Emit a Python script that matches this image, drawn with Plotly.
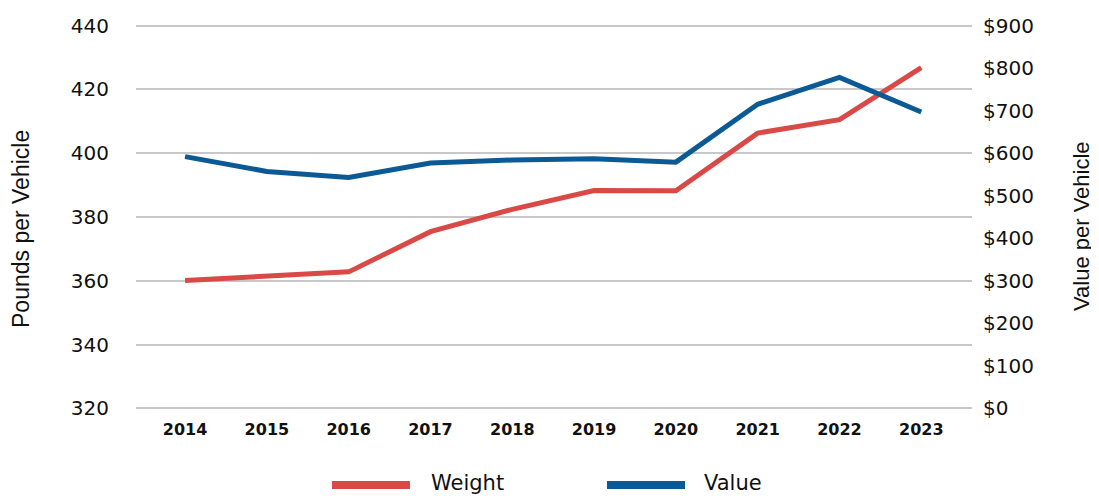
import plotly.graph_objects as go

years = [2014, 2015, 2016, 2017, 2018, 2019, 2020, 2021, 2022, 2023]
weight = [360.1, 361.4, 362.8, 375.4, 382.4, 388.3, 388.2, 406.3, 410.5, 426.8]
value = [592, 557, 543, 577, 584, 587, 579, 715, 778, 697]
left_ticks = [320, 340, 360, 380, 400, 420, 440]
right_ticks = [0, 100, 200, 300, 400, 500, 600, 700, 800, 900]
right_labels = ["$" + str(v) for v in right_ticks]

RED = "#D94A47"
BLUE = "#0B5A96"
FONT = "DejaVu Sans"
TITLE_FONT = "Liberation Sans"

# page has an 8px body margin, so the figure is offset by 8px
W, H = 1091, 488
ML, MR, MT, MB = 128, 127, 16, 86
PW, PH = W - ML - MR, H - MT - MB


def px(sx):
    return (sx - 8 - ML) / PW


def py(sy):
    return (H - MB - (sy - 8)) / PH


# small padding so the edge gridlines (320 / 440) are drawn
LRANGE = [319.5, 440.5]
RRANGE = [(LRANGE[0] - 320) * 7.5, (LRANGE[1] - 320) * 7.5]

fig = go.Figure()
fig.add_trace(go.Scatter(x=years, y=weight, name="Weight", mode="lines",
                         line=dict(color=RED, width=5), yaxis="y", showlegend=False))
fig.add_trace(go.Scatter(x=years, y=value, name="Value", mode="lines",
                         line=dict(color=BLUE, width=5), yaxis="y2", showlegend=False))

fig.update_layout(
    width=W, height=H,
    margin=dict(l=ML, r=MR, t=MT, b=MB),
    plot_bgcolor="white", paper_bgcolor="white",
    font=dict(family=FONT, color="#111111"),
    xaxis=dict(tickmode="array", tickvals=years, ticktext=[f"<b>{y}</b>" for y in years],
               range=[2013.4, 2023.62], showgrid=False, zeroline=False, showline=False,
               ticks="", tickfont=dict(size=16, family=FONT), ticklabelstandoff=8,
               automargin=False),
    yaxis=dict(range=LRANGE, tickvals=left_ticks, showgrid=True, gridcolor="#C8C8C8",
               gridwidth=1.5, zeroline=False, showline=False, ticks="",
               tickfont=dict(size=20, family=FONT), ticklabelstandoff=26, automargin=False),
    yaxis2=dict(range=RRANGE, tickvals=right_ticks, ticktext=right_labels, overlaying="y",
                side="right", showgrid=False, zeroline=False, showline=False, ticks="",
                tickfont=dict(size=20, family=FONT), ticklabelstandoff=10, automargin=False),
)

# Axis titles as rotated annotations
fig.add_annotation(text="Pounds per Vehicle", xref="paper", yref="paper", x=px(21), y=py(229),
                   xanchor="center", yanchor="middle", textangle=-90, showarrow=False,
                   font=dict(size=23, family=TITLE_FONT, color="#111111"))
fig.add_annotation(text="Value per Vehicle", xref="paper", yref="paper", x=px(1081), y=py(226),
                   xanchor="center", yanchor="middle", textangle=-90, showarrow=False,
                   font=dict(size=22, family=TITLE_FONT, color="#111111"))

# Legend drawn manually
legend_items = [("Weight", RED, 332, 410, 429), ("Value", BLUE, 607, 685, 702)]
for name, color, x0, x1, tx in legend_items:
    fig.add_shape(type="line", xref="paper", yref="paper",
                  x0=px(x0), x1=px(x1), y0=py(485), y1=py(485),
                  line=dict(color=color, width=8))
    fig.add_annotation(text=name, xref="paper", yref="paper", x=px(tx),
                       y=py(483), xanchor="left", yanchor="middle",
                       showarrow=False, font=dict(size=21, family=FONT, color="#111111"))

fig.write_html("out.html")
